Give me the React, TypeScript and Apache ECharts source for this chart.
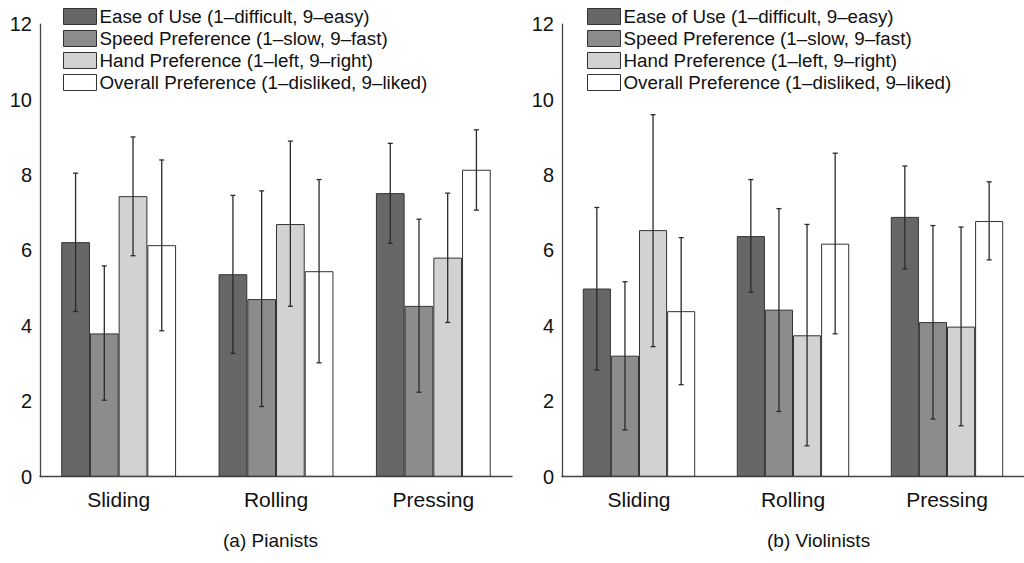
import React, { useEffect, useRef } from "react";
import * as echarts from "echarts";

const categories = ["Sliding", "Rolling", "Pressing"];
const seriesNames = [
  "Ease of Use (1–difficult, 9–easy)",
  "Speed Preference (1–slow, 9–fast)",
  "Hand Preference (1–left, 9–right)",
  "Overall Preference (1–disliked, 9–liked)",
];
const colors = ["#676767", "#8c8c8c", "#d2d2d2", "#ffffff"];
const yTicks = [0, 2, 4, 6, 8, 10, 12];

// Pianists: mean, error low, error high per series across categories
const pianoMeans = [
  [6.22, 5.37, 7.52],
  [3.8, 4.71, 4.53],
  [7.44, 6.7, 5.81],
  [6.14, 5.45, 8.14],
];
const pianoLow = [
  [4.38, 3.27, 6.19],
  [2.03, 1.86, 2.24],
  [5.86, 4.52, 4.09],
  [3.87, 3.02, 7.07],
];
const pianoHigh = [
  [8.05, 7.46, 8.84],
  [5.59, 7.58, 6.83],
  [9.01, 8.9, 7.52],
  [8.4, 7.88, 9.2],
];

// Violinists
const violinMeans = [
  [4.99, 6.38, 6.89],
  [3.21, 4.43, 4.1],
  [6.54, 3.75, 3.98],
  [4.39, 6.18, 6.78],
];
const violinLow = [
  [2.83, 4.89, 5.51],
  [1.24, 1.73, 1.53],
  [3.45, 0.82, 1.35],
  [2.44, 3.79, 5.75],
];
const violinHigh = [
  [7.14, 7.88, 8.24],
  [5.17, 7.11, 6.66],
  [9.6, 6.69, 6.62],
  [6.34, 8.58, 7.82],
];

const panelTitles = ["(a) Pianists", "(b) Violinists"];

const GROUP_FRAC = 0.73;

function buildPanel(
  idx: number,
  means: number[][],
  lows: number[][],
  highs: number[][]
) {
  const series: any[] = [];
  means.forEach((vals, i) => {
    series.push({
      type: "bar",
      name: seriesNames[i],
      xAxisIndex: idx,
      yAxisIndex: idx,
      data: vals,
      barGap: "0%",
      barCategoryGap: "27%",
      itemStyle: { color: colors[i], borderColor: "#333", borderWidth: 1 },
    });
  });
  means.forEach((_, i) => {
    const data = categories.map((_, c) => [c, lows[i][c], highs[i][c]]);
    series.push({
      type: "custom",
      xAxisIndex: idx,
      yAxisIndex: idx,
      z: 10,
      encode: { x: 0, y: [1, 2] },
      data,
      renderItem: (params: any, api: any) => {
        const c = api.value(0);
        const lo = api.coord([c, api.value(1)]);
        const hi = api.coord([c, api.value(2)]);
        const band = api.size([1, 0])[0];
        const groupW = band * GROUP_FRAC;
        const barW = groupW / 4;
        const cx = lo[0] - groupW / 2 + barW * (i + 0.5);
        const cap = 2.5;
        const style = { stroke: "#2a2a2a", lineWidth: 1.3 };
        return {
          type: "group",
          children: [
            { type: "line", shape: { x1: cx, y1: hi[1], x2: cx, y2: lo[1] }, style },
            { type: "line", shape: { x1: cx - cap, y1: hi[1], x2: cx + cap, y2: hi[1] }, style },
            { type: "line", shape: { x1: cx - cap, y1: lo[1], x2: cx + cap, y2: lo[1] }, style },
          ],
        };
      },
    });
  });
  return series;
}

export default function App() {
  const ref = useRef<HTMLDivElement>(null);
  useEffect(() => {
    if (!ref.current) return;
    const chart = echarts.init(ref.current, null, { renderer: "svg" });
    const fontFamily = "Liberation Sans, Arial, sans-serif";
    const grids = [
      { left: 40, top: 24.2, width: 472, height: 452.5 },
      { left: 562, top: 24.2, width: 472, height: 452.5 },
    ];
    const xAxes = grids.map((_, i) => ({
      type: "category",
      gridIndex: i,
      data: categories,
      axisLine: { lineStyle: { color: "#444", width: 1.3 } },
      axisTick: { show: false },
      axisLabel: { color: "#111", fontSize: 21, margin: 12, fontFamily },
    }));
    const yAxes = grids.map((_, i) => ({
      type: "value",
      gridIndex: i,
      min: yTicks[0],
      max: yTicks[yTicks.length - 1],
      interval: 2,
      axisLine: { show: true, lineStyle: { color: "#444", width: 1.3 } },
      axisTick: { show: false },
      splitLine: { show: false },
      axisLabel: { color: "#111", fontSize: 20, margin: 8, fontFamily },
    }));
    const legendCommon = {
      orient: "vertical",
      top: 7,
      padding: 0,
      icon: "rect",
      itemWidth: 33,
      itemHeight: 16,
      itemGap: 3,
      data: seriesNames,
      itemStyle: { borderColor: "#333", borderWidth: 1 },
      textStyle: { color: "#111", fontSize: 18.8, fontFamily, padding: [0, 0, 0, -2] },
      selectedMode: false,
    };
    chart.setOption({
      animation: false,
      backgroundColor: "#fff",
      grid: grids,
      xAxis: xAxes,
      yAxis: yAxes,
      legend: [
        { ...legendCommon, left: 63 },
        { ...legendCommon, left: 587 },
      ],
      graphic: [
        {
          type: "text",
          left: 273 - 50,
          top: 531,
          style: { text: panelTitles[0], fontSize: 19, fill: "#111", fontFamily },
        },
        {
          type: "text",
          left: 823 - 56,
          top: 531,
          style: { text: panelTitles[1], fontSize: 19, fill: "#111", fontFamily },
        },
      ],
      series: [
        ...buildPanel(0, pianoMeans, pianoLow, pianoHigh),
        ...buildPanel(1, violinMeans, violinLow, violinHigh),
      ],
    });
    return () => chart.dispose();
  }, []);
  return (
    <div
      ref={ref}
      style={{ position: "fixed", left: 0, top: 0, width: 1024, height: 563 }}
    />
  );
}
